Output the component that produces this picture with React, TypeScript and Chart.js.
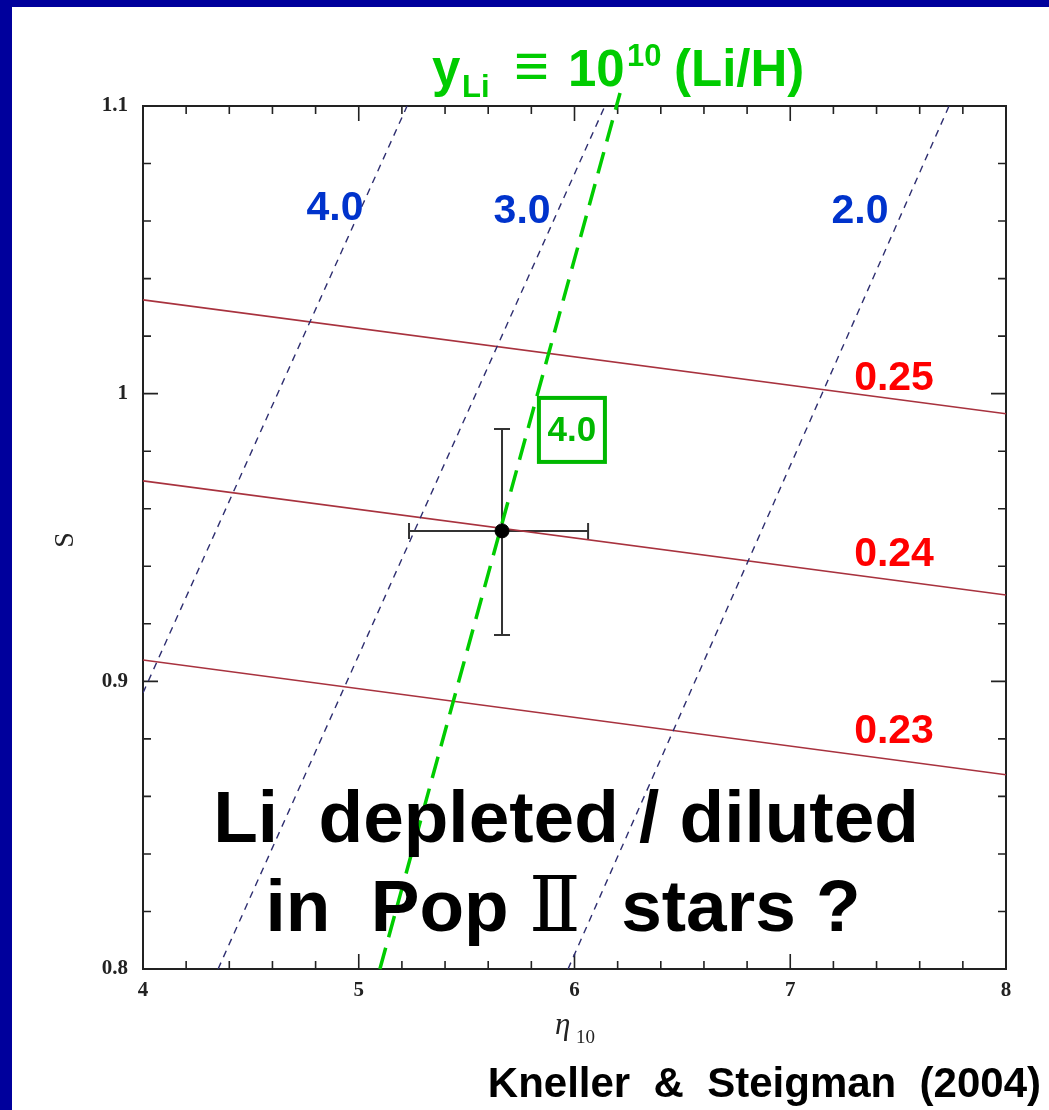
import React, { useEffect, useRef } from "react";
import { Chart, registerables } from "chart.js";

Chart.register(...registerables);

// Axis ticks
const X_TICKS = [4, 5, 6, 7, 8];
const X_TICK_LABELS = ["4", "5", "6", "7", "8"];
const Y_TICKS = [0.8, 0.9, 1.0, 1.1];
const Y_TICK_LABELS = ["0.8", "0.9", "1", "1.1"];

// Helium contours (Yp), straight lines across eta10 = 4..8
const YP_LABELS = ["0.25", "0.24", "0.23"];
const YP_ETA = [4, 8];
const YP_025_S = [1.0326, 0.993];
const YP_024_S = [0.9697, 0.93];
const YP_023_S = [0.9074, 0.8675];

// Lithium contours (yLi)
const LI_LABELS = ["4.0", "3.0", "2.0"];
const LI_40_ETA = [4.0, 5.224];
const LI_40_S = [0.896, 1.1];
const LI_30_ETA = [4.348, 6.141];
const LI_30_S = [0.8, 1.1];
const LI_20_ETA = [5.97, 7.736];
const LI_20_S = [0.8, 1.1];

// Observed Pop II lithium, yLi = 4.0
const LI_OBS_LABEL = "4.0";
const LI_OBS_ETA = [5.098, 6.211];
const LI_OBS_S = [0.8, 1.1045];

// Measurement with error bars
const POINT_ETA = 5.664;
const POINT_S = 0.9523;
const POINT_ETA_RANGE = [5.233, 6.063];
const POINT_S_RANGE = [0.9161, 0.9877];

const W = 1049;
const H = 1110;

const pts = (xs: number[], ys: number[]) => xs.map((x, i) => ({ x, y: ys[i] }));

const SANS = '"Liberation Sans", Arial, sans-serif';
const SERIF = '"Liberation Serif", "Times New Roman", serif';

const framePlugin = {
  id: "frame",
  beforeDraw(chart: any) {
    const { ctx } = chart;
    ctx.save();
    ctx.fillStyle = "#ffffff";
    ctx.fillRect(0, 0, W, H);
    ctx.fillStyle = "#00009c";
    ctx.fillRect(0, 0, W, 7);
    ctx.fillRect(0, 0, 12, H);
    ctx.restore();
  },
  beforeDatasetsDraw(chart: any) {
    const { ctx, chartArea: a, scales } = chart;
    const xs = scales.x;
    const ys = scales.y;
    ctx.save();
    ctx.strokeStyle = "#222";
    ctx.lineWidth = 2;
    ctx.strokeRect(a.left, a.top, a.right - a.left, a.bottom - a.top);
    ctx.lineWidth = 1.6;
    ctx.beginPath();
    // x ticks every 0.2, major at integers
    for (let i = 0; i <= 20; i++) {
      const v = 4 + i * 0.2;
      const px = xs.getPixelForValue(v);
      const len = i % 5 === 0 ? 15 : 8;
      ctx.moveTo(px, a.bottom);
      ctx.lineTo(px, a.bottom - len);
      ctx.moveTo(px, a.top);
      ctx.lineTo(px, a.top + len);
    }
    // y ticks every 0.02, major at 0.1
    for (let i = 0; i <= 15; i++) {
      const v = 0.8 + i * 0.02;
      const py = ys.getPixelForValue(v);
      const len = i % 5 === 0 ? 15 : 8;
      ctx.moveTo(a.left, py);
      ctx.lineTo(a.left + len, py);
      ctx.moveTo(a.right, py);
      ctx.lineTo(a.right - len, py);
    }
    ctx.stroke();

    // error bars
    const cx = xs.getPixelForValue(POINT_ETA);
    const cy = ys.getPixelForValue(POINT_S);
    const x0 = xs.getPixelForValue(POINT_ETA_RANGE[0]);
    const x1 = xs.getPixelForValue(POINT_ETA_RANGE[1]);
    const y0 = ys.getPixelForValue(POINT_S_RANGE[0]);
    const y1 = ys.getPixelForValue(POINT_S_RANGE[1]);
    ctx.strokeStyle = "#333";
    ctx.lineWidth = 2;
    ctx.beginPath();
    ctx.moveTo(x0, cy);
    ctx.lineTo(x1, cy);
    ctx.moveTo(x0, cy - 8);
    ctx.lineTo(x0, cy + 8);
    ctx.moveTo(x1, cy - 8);
    ctx.lineTo(x1, cy + 8);
    ctx.moveTo(cx, y0);
    ctx.lineTo(cx, y1);
    ctx.moveTo(cx - 8, y0);
    ctx.lineTo(cx + 8, y0);
    ctx.moveTo(cx - 8, y1);
    ctx.lineTo(cx + 8, y1);
    ctx.stroke();
    ctx.restore();
  },
  afterDraw(chart: any) {
    const { ctx, scales } = chart;
    const xs = scales.x;
    const ys = scales.y;
    const at = (x: number, y: number) => [xs.getPixelForValue(x), ys.getPixelForValue(y)];
    ctx.save();

    // axis titles
    ctx.fillStyle = "#222";
    ctx.textAlign = "left";
    ctx.textBaseline = "alphabetic";
    ctx.font = `italic 31px ${SERIF}`;
    ctx.fillText("\u03b7", 555, 1034);
    ctx.font = `19px ${SERIF}`;
    ctx.fillText("10", 576, 1043);
    ctx.save();
    ctx.translate(66, 540);
    ctx.rotate(-Math.PI / 2);
    ctx.textAlign = "center";
    ctx.textBaseline = "middle";
    ctx.font = `28px ${SERIF}`;
    ctx.fillText("S", 0, 0);
    ctx.restore();

    // contour labels
    ctx.textAlign = "center";
    ctx.textBaseline = "middle";
    ctx.font = `bold 41px ${SANS}`;
    ctx.fillStyle = "#0033cc";
    const liPos = [
      [4.89, 1.0642],
      [5.757, 1.0632],
      [7.323, 1.0632],
    ];
    LI_LABELS.forEach((t, i) => {
      const [px, py] = at(liPos[i][0], liPos[i][1]);
      ctx.fillText(t, px, py);
    });
    ctx.fillStyle = "#ff0000";
    const ypPos = [
      [7.481, 1.0051],
      [7.481, 0.9439],
      [7.481, 0.8824],
    ];
    YP_LABELS.forEach((t, i) => {
      const [px, py] = at(ypPos[i][0], ypPos[i][1]);
      ctx.fillText(t, px, py);
    });

    // boxed label of the observed contour
    const [bx, by] = at(5.988, 0.9874);
    ctx.strokeStyle = "#00b800";
    ctx.lineWidth = 4;
    ctx.strokeRect(bx - 33, by - 32, 66, 64);
    ctx.fillStyle = "#00b800";
    ctx.font = `bold 35px ${SANS}`;
    ctx.fillText(LI_OBS_LABEL, bx, by + 1);

    // header formula
    ctx.textAlign = "left";
    ctx.textBaseline = "alphabetic";
    ctx.fillStyle = "#00cc00";
    ctx.font = `bold 51px ${SANS}`;
    ctx.fillText("y", 432, 86);
    ctx.font = `bold 31px ${SANS}`;
    ctx.fillText("Li", 462, 97);
    ctx.font = `bold 60px ${SANS}`;
    ctx.fillText("\u2261", 514, 86);
    ctx.font = `bold 51px ${SANS}`;
    ctx.fillText("10", 568, 86);
    ctx.font = `bold 31px ${SANS}`;
    ctx.fillText("10", 627, 66);
    ctx.font = `bold 51px ${SANS}`;
    ctx.fillText("(Li/H)", 674, 86);

    // question text
    ctx.fillStyle = "#000";
    ctx.textAlign = "center";
    ctx.font = `bold 73px ${SANS}`;
    ctx.fillText("Li  depleted / diluted", 566, 842);
    ctx.textAlign = "left";
    const p1 = "in  Pop ";
    const p3 = "  stars ?";
    ctx.font = `bold 73px ${SANS}`;
    const w1 = ctx.measureText(p1).width;
    const w3 = ctx.measureText(p3).width;
    ctx.font = `76px "DejaVu Serif", ${SERIF}`;
    const w2 = ctx.measureText("\u2161").width;
    let sx = 563 - (w1 + w2 + w3) / 2;
    ctx.font = `bold 73px ${SANS}`;
    ctx.fillText(p1, sx, 931);
    sx += w1;
    ctx.font = `76px "DejaVu Serif", ${SERIF}`;
    ctx.fillText("\u2161", sx, 931);
    sx += w2;
    ctx.font = `bold 73px ${SANS}`;
    ctx.fillText(p3, sx, 931);

    // citation
    ctx.textAlign = "right";
    ctx.font = `bold 42px ${SANS}`;
    ctx.fillText("Kneller  &  Steigman  (2004)", 1041, 1097);
    ctx.restore();
  },
};

export default function App() {
  const ref = useRef<HTMLCanvasElement | null>(null);

  useEffect(() => {
    if (!ref.current) return;
    const redLine = (data: any) => ({
      data,
      showLine: true,
      borderColor: "#a8323e",
      borderWidth: 1.6,
      pointRadius: 0,
      fill: false,
    });
    const blueLine = (data: any) => ({
      data,
      showLine: true,
      borderColor: "#2e2e70",
      borderWidth: 1.4,
      borderDash: [7, 6],
      pointRadius: 0,
      fill: false,
    });
    const chart = new Chart(ref.current, {
      type: "scatter",
      data: {
        datasets: [
          {
            data: [{ x: POINT_ETA, y: POINT_S }],
            pointRadius: 7,
            pointBackgroundColor: "#000",
            pointBorderColor: "#000",
            showLine: false,
          },
          {
            data: pts(LI_OBS_ETA, LI_OBS_S),
            showLine: true,
            borderColor: "#00cc00",
            borderWidth: 3.5,
            borderDash: [22, 11],
            pointRadius: 0,
            clip: false,
          },
          blueLine(pts(LI_40_ETA, LI_40_S)),
          blueLine(pts(LI_30_ETA, LI_30_S)),
          blueLine(pts(LI_20_ETA, LI_20_S)),
          redLine(pts(YP_ETA, YP_025_S)),
          redLine(pts(YP_ETA, YP_024_S)),
          redLine(pts(YP_ETA, YP_023_S)),
        ] as any,
      },
      options: {
        animation: false,
        responsive: false,
        devicePixelRatio: 1,
        events: [],
        layout: { padding: { left: 0, top: 106, right: 43, bottom: 0 } },
        plugins: { legend: { display: false }, tooltip: { enabled: false } },
        scales: {
          x: {
            type: "linear",
            min: 4,
            max: 8,
            afterFit: (s: any) => {
              s.height = 141;
            },
            afterBuildTicks: (s: any) => {
              s.ticks = X_TICKS.map((v) => ({ value: v }));
            },
            ticks: {
              callback: (_v: any, i: number) => X_TICK_LABELS[i],
              font: { family: SERIF, size: 21, weight: "bold" },
              color: "#222",
              padding: 9,
              maxRotation: 0,
              autoSkip: false,
            },
            grid: { display: false, drawTicks: false },
            border: { display: false },
          },
          y: {
            type: "linear",
            min: 0.8,
            max: 1.1,
            afterFit: (s: any) => {
              s.width = 143;
            },
            afterBuildTicks: (s: any) => {
              s.ticks = Y_TICKS.map((v) => ({ value: v }));
            },
            ticks: {
              callback: (_v: any, i: number) => Y_TICK_LABELS[i],
              font: { family: SERIF, size: 21, weight: "bold" },
              color: "#222",
              padding: 15,
              autoSkip: false,
            },
            grid: { display: false, drawTicks: false },
            border: { display: false },
          },
        },
      } as any,
      plugins: [framePlugin],
    });
    return () => chart.destroy();
  }, []);

  return (
    <div style={{ position: "absolute", left: 0, top: 0, width: W, height: H }}>
      <canvas ref={ref} width={W} height={H} style={{ display: "block", width: W, height: H }} />
    </div>
  );
}
